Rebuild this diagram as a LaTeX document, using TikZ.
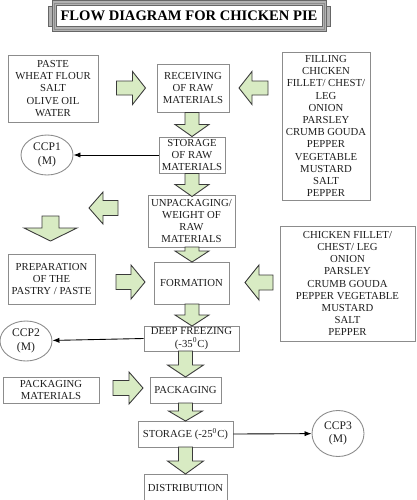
\documentclass[tikz,border=0pt]{standalone}
\usepackage{fontspec}
\setmainfont{Liberation Serif}
\usetikzlibrary{shapes.geometric,arrows.meta}
\definecolor{arrfill}{HTML}{D8EBC3}
\definecolor{arrline}{HTML}{3A3A3A}
\definecolor{boxline}{HTML}{8C8C8C}
\definecolor{txt}{HTML}{1E1E1E}
\newcommand\bodyfont{\fontsize{6.1}{6.95}\selectfont}
\newcommand\blockarr[7]{\draw[blockarrow,shift={(#1,#2)},rotate=#3] (-#4/2,-#6/2) -- (#4/2-#7,-#6/2) -- (#4/2-#7,-#5/2) -- (#4/2,0) -- (#4/2-#7,#5/2) -- (#4/2-#7,#6/2) -- (-#4/2,#6/2) -- cycle;}
\begin{document}
\begin{tikzpicture}[x=0.2mm,y=-0.2mm,
 box/.style 2 args={draw=boxline, line width=0.5pt, fill=white, align=center, text=txt, font=\bodyfont, inner sep=0pt, minimum width=#1*0.2mm, minimum height=#2*0.2mm},
 ccp/.style={ellipse, draw=boxline, line width=0.5pt, align=center, text=txt, font=\fontsize{6.6}{7.6}\selectfont, inner sep=0pt, minimum width=52*0.2mm, minimum height=40*0.2mm},
 conn/.style={-{Latex[length=4pt,width=3pt]}, line width=0.5pt, draw=black},
 blockarrow/.style={fill=arrfill, draw=arrline, line width=0.5pt, line join=miter}]
\clip (0,0) rectangle (416,500);
\fill[white] (0,0) rectangle (416,500);
% title banner
\draw[draw=black!60, fill=gray!60] (52,0.8) rectangle (326,31);
\draw[draw=black!45] (54,3) rectangle (324,29);
\draw[draw=black!60, fill=white] (56,5.5) rectangle (322,26.5);
\draw[draw=black!60, fill=gray!60] (48,6) rectangle (52,26);
\draw[draw=black!60, fill=gray!60] (326,6) rectangle (330,26);
\node[font=\fontsize{8.3}{10}\selectfont\bfseries, text=black] (title) at (189,16) {FLOW DIAGRAM FOR CHICKEN PIE};
% nodes
\node[box={90}{67}] (paste) at (53,88.5) {PASTE\\WHEAT FLOUR\\SALT\\OLIVE OIL\\WATER};
\node[box={72}{48}] (recv) at (193,88) {RECEIVING\\OF RAW\\MATERIALS};
\node[box={88}{148}] (fill) at (326,126) {FILLING\\CHICKEN\\FILLET/ CHEST/\\LEG\\ONION\\PARSLEY\\CRUMB GOUDA\\PEPPER\\VEGETABLE\\MUSTARD\\SALT\\PEPPER};
\node[box={66}{36}] (stor) at (192,155) {STORAGE\\OF RAW\\MATERIALS};
\node[ccp] (ccp1) at (47,155) {CCP1\\(M)};
\node[box={87}{52}] (unpack) at (191.5,221) {UNPACKAGING/\\WEIGHT OF\\RAW\\MATERIALS};
\node[box={87}{50}] (prep) at (51.5,279) {PREPARATION\\OF THE\\PASTRY / PASTE};
\node[box={75}{42}] (form) at (191.5,283) {FORMATION};
\node[box={135}{115}] (fill2) at (347.5,283.5) {CHICKEN FILLET/\\CHEST/ LEG\\ONION\\PARSLEY\\CRUMB GOUDA\\PEPPER VEGETABLE\\MUSTARD\\SALT\\PEPPER};
\node[box={95}{25}] (deep) at (191.5,338.5) {DEEP FREEZING\\(-35\textsuperscript{0}C)};
\node[ccp] (ccp2) at (26,341) {CCP2\\(M)};
\node[box={96}{26}] (pkgmat) at (51,390) {PACKAGING\\MATERIALS};
\node[box={71}{26}] (pack) at (185.5,390) {PACKAGING};
\node[box={95}{26}] (stor2) at (185.5,434) {STORAGE (-25\textsuperscript{0}C)};
\node[ccp, minimum height=46*0.2mm] (ccp3) at (338,433.5) {CCP3\\(M)};
\node[box={83}{28}] (dist) at (185.5,488) {DISTRIBUTION};
% connectors
\draw[conn] (stor.west) -- (ccp1);
\draw[conn] (deep.west) -- (ccp2);
\draw[conn] (stor2.east) -- (ccp3);
% block arrows
\blockarr{131}{88}{0}{29}{33}{14}{13}
\blockarr{253.5}{88}{180}{29}{33}{14}{13}
\blockarr{192}{124.5}{-90}{24}{34}{14}{12}
\blockarr{192}{185}{-90}{23}{34}{14}{12}
\blockarr{103.5}{208}{180}{29}{32}{15}{14}
\blockarr{50.5}{228.5}{-90}{25}{53}{17}{13}
\blockarr{192}{254.5}{-90}{15}{34}{14}{11}
\blockarr{130.5}{282}{0}{29}{34}{15}{14}
\blockarr{259}{282.5}{180}{28}{35}{15}{14}
\blockarr{192}{315}{-90}{22}{34}{14}{11}
\blockarr{185.5}{364}{-90}{26}{36}{14}{12}
\blockarr{128}{388}{0}{30}{32}{15}{14}
\blockarr{185.5}{412}{-90}{18}{34}{14}{10}
\blockarr{185.5}{460.5}{-90}{27}{36}{14}{13}
\end{tikzpicture}
\end{document}
